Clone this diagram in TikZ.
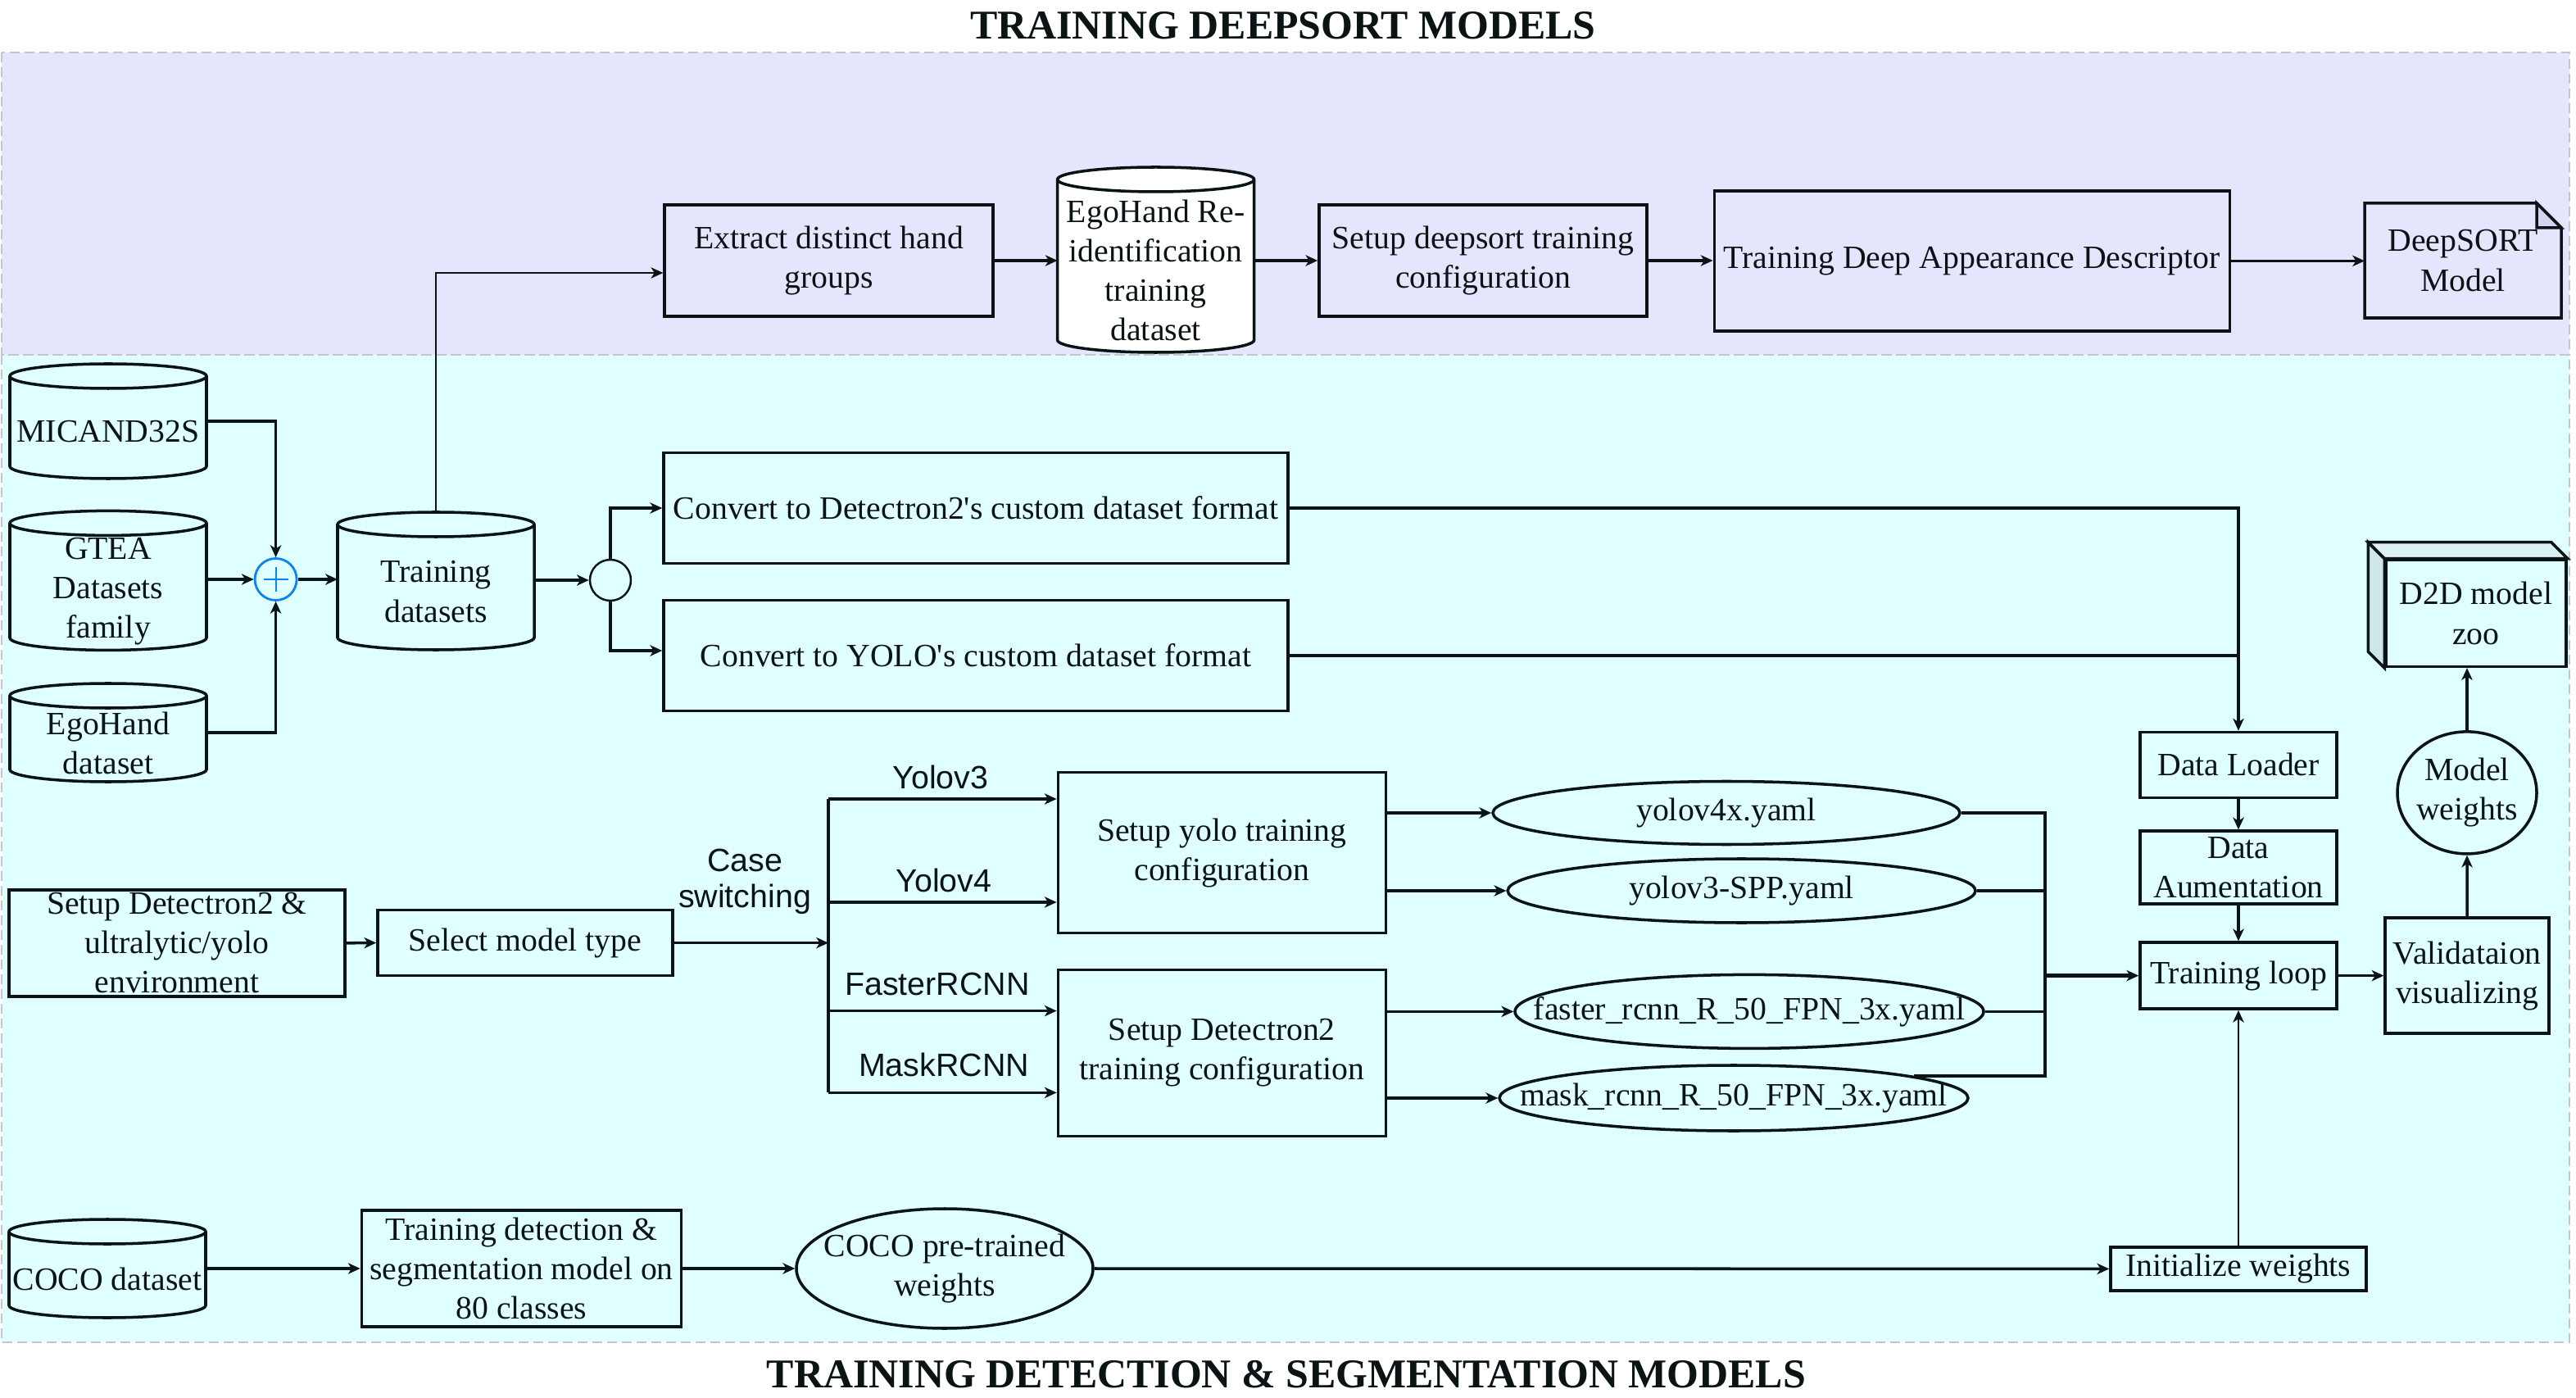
\documentclass[tikz,border=0pt]{standalone}
\usepackage{fontspec}
\setmainfont{Liberation Serif}
\setsansfont{Liberation Sans}
\usetikzlibrary{arrows.meta,shapes.geometric}

\definecolor{lavbg}{HTML}{E5E5FE}
\definecolor{cyanbg}{HTML}{E0FFFF}
\definecolor{foldc}{HTML}{D4D4F0}
\definecolor{cubeside}{HTML}{CFE6E6}
\definecolor{cubetop}{HTML}{DCF2F2}
\definecolor{plusblue}{HTML}{0A84F0}
\definecolor{lnc}{HTML}{0A1414}

\tikzset{
  arr/.style={-{Stealth[length=4.2pt,width=3.8pt,inset=1.2pt]}},
  box/.style={draw, rectangle, align=center, inner sep=0pt},
  oval/.style={draw, ellipse, inner sep=0pt},
  dbbox/.style={rectangle, inner sep=0pt, outer sep=0pt},
  region/.style={draw=gray!45, line width=0.6pt, dash pattern=on 1.2mm off 0.6mm},
  sflbl/.style={font=\sffamily\fontsize{11.2}{12.5}\selectfont, align=center, inner sep=0pt},
  ttl/.style={font=\bfseries\fontsize{14.2}{17}\selectfont, inner sep=0pt},
}

% database cylinder: [fill]{name}{position}{width}{height}{text}
\newcommand{\capr}{1.5mm}
\newcommand{\dbcyl}[6][cyanbg]{%
  \node[dbbox, minimum width=#4, minimum height=#5] (#2) at #3 {};
  \filldraw[fill=#1] ([yshift=-\capr]#2.north west) -- ([yshift=\capr]#2.south west)
    arc[start angle=180, end angle=360, x radius=#4/2, y radius=\capr]
    -- ([yshift=-\capr]#2.north east)
    arc[start angle=0, end angle=180, x radius=#4/2, y radius=\capr] -- cycle;
  \draw ([yshift=-\capr]#2.north west) arc[start angle=180, end angle=360, x radius=#4/2, y radius=\capr];
  \node[align=center, inner sep=0pt] (#2-t) at ([yshift=-1.3mm]#2.center) {#6};
}

\begin{document}
\begin{tikzpicture}[x=0.2mm, y=-0.2mm, line width=1pt, lnc, font=\fontsize{11.3}{13.7}\selectfont]
  \useasboundingbox (0,0) rectangle (1572,853);

  % background bands
  \fill[lavbg] (1,32) rectangle (1568,216.5);
  \fill[cyanbg] (1,216.5) rectangle (1568,819);
  \draw[region] (1,32) rectangle (1568,216.5);
  \draw[region] (1,216.5) rectangle (1568,819);

  \node[ttl] (ttop) at (783,15.5) {TRAINING DEEPSORT MODELS};
  \node[ttl] (tbot) at (785,838.5) {TRAINING DETECTION \& SEGMENTATION MODELS};

  % deepsort row
  \node[box, minimum width=40.1mm, minimum height=13.6mm] (extract) at (505.8,159) {Extract distinct hand\\groups};
  \dbcyl[white]{egoreid}{(705.3,158.5)}{24mm}{22.6mm}{EgoHand Re-\\identification\\training\\dataset}
  \node[box, minimum width=40mm, minimum height=13.6mm] (setupds) at (905,159) {Setup deepsort training\\configuration};
  \node[box, minimum width=62.9mm, minimum height=17.1mm] (tdad) at (1203.4,159.2) {Training Deep Appearance Descriptor};
  \node[dbbox, align=center, minimum width=24mm, minimum height=14mm] (dsm) at (1503,159) {DeepSORT\\Model};
  \draw (dsm.north west) -- ([xshift=-3mm]dsm.north east) -- ([yshift=-3mm]dsm.north east) -- (dsm.south east) -- (dsm.south west) -- cycle;
  \filldraw[fill=foldc] ([xshift=-3mm]dsm.north east) -- ([xshift=-3mm,yshift=-3mm]dsm.north east) -- ([yshift=-3mm]dsm.north east) -- cycle;

  \draw[arr] (extract.east) -- (extract.east -| egoreid.west);
  \draw[arr] (egoreid.east |- setupds.west) -- (setupds.west);
  \draw[arr] (setupds.east) -- (setupds.east -| tdad.west);
  \draw[arr] (tdad.east) -- (tdad.east -| dsm.west);

  % datasets
  \dbcyl{mic}{(66,257)}{24mm}{14mm}{MICAND32S}
  \dbcyl{gtea}{(66,354.2)}{24mm}{17mm}{GTEA\\Datasets\\family}
  \dbcyl{ego}{(66,447)}{24mm}{12mm}{EgoHand\\dataset}
  \dbcyl{trds}{(266,354.5)}{24mm}{16.8mm}{Training\\datasets}

  \node[circle, draw=plusblue, line width=0.8pt, minimum size=5.1mm, inner sep=0pt] (plus) at (168.3,353.5) {};
  \draw[plusblue, line width=0.6pt] ([xshift=-1.5mm]plus.center) -- ([xshift=1.5mm]plus.center)
    ([yshift=-1.5mm]plus.center) -- ([yshift=1.5mm]plus.center);
  \node[circle, draw, line width=0.7pt, minimum size=5mm, inner sep=0pt] (split) at (372.5,354) {};

  \draw[arr] (mic.east) -| (plus.north);
  \draw[arr] (gtea.east |- plus.west) -- (plus.west);
  \draw[arr] (ego.east) -| (plus.south);
  \draw[arr] (plus.east) -- (plus.east -| trds.west);
  \draw[arr] (trds.east |- split.west) -- (split.west);
  \draw[arr, line width=0.7pt] (trds.north) |- ([yshift=-1.5mm]extract.west);

  \node[box, minimum width=76.2mm, minimum height=13.5mm] (convD) at (595.5,310) {Convert to Detectron2\textquotesingle s custom dataset format};
  \node[box, minimum width=76.2mm, minimum height=13.5mm] (convY) at (595.5,400) {Convert to YOLO\textquotesingle s custom dataset format};
  \draw[arr] (split.north) |- (convD.west);
  \draw[arr] (split.south) |- ([yshift=0.6mm]convY.west);

  % training pipeline
  \node[box, minimum width=24mm, minimum height=8mm] (dload) at (1366,466.7) {Data Loader};
  \node[box, minimum width=24mm, minimum height=8.9mm] (daug) at (1366,529.3) {Data\\Aumentation};
  \node[box, minimum width=24mm, minimum height=8.1mm] (tloop) at (1366,595.3) {Training loop};
  \node[box, minimum width=20mm, minimum height=14.1mm] (valid) at (1505.6,595.3) {Validataion\\visualizing};
  \node[oval, minimum width=17mm, minimum height=14.9mm, label={[name=mweights-t, align=center, inner sep=0pt]center:Model\\weights}] (mweights) at (1505.5,483.7) {};
  \node[box, minimum width=22mm, minimum height=13mm] (zoo) at (1511,374.2) {D2D model\\zoo};
  \filldraw[fill=cubeside] (zoo.north west) -- ++(-2mm,2mm) -- ([shift={(-2mm,2mm)}]zoo.south west) -- (zoo.south west) -- cycle;
  \filldraw[fill=cubetop] (zoo.north west) -- ++(-2mm,2mm) -- ([shift={(-2mm,2mm)}]zoo.north east) -- (zoo.north east) -- cycle;

  \draw[arr] (convD.east) -| (dload.north);
  \draw (convY.east) -- (convY.east -| dload.north);
  \draw[arr] (dload.south) -- (daug.north);
  \draw[arr] (daug.south) -- (tloop.north);
  \draw[arr, line width=0.8pt] (tloop.east) -- (valid.west);
  \draw[arr] (valid.north) -- (mweights.south);
  \draw[arr] (mweights.north) -- (mweights.north |- zoo.south);

  % model selection
  \node[box, minimum width=41mm, minimum height=13mm] (setenv) at (108,575.4) {Setup Detectron2 \&\\ultralytic/yolo\\environment};
  \node[box, minimum width=36mm, minimum height=8mm] (selmt) at (320.5,575.3) {Select model type};
  \node[box, minimum width=40mm, minimum height=19.6mm] (yolocfg) at (745.7,520.3) {Setup yolo training\\configuration};
  \node[box, minimum width=40mm, minimum height=20.3mm] (d2cfg) at (745.7,642.5) {Setup Detectron2\\training configuration};

  \coordinate (sw) at (505.5,575.3);
  \coordinate (bv3) at (505.5,487.5);
  \coordinate (bv4) at (505.5,550.5);
  \coordinate (bfr) at (505.5,616.8);
  \coordinate (bmr) at (505.5,666.7);
  \draw[arr] (setenv.east) -- (selmt.west);
  \draw[arr] (selmt.east) -- (sw);
  \draw (bv3) -- (bmr);
  \draw[arr] (bv3) -- (bv3 -| yolocfg.west);
  \draw[arr] (bv4) -- (bv4 -| yolocfg.west);
  \draw[arr] (bfr) -- (bfr -| d2cfg.west);
  \draw[arr] (bmr) -- (bmr -| d2cfg.west);

  \node[sflbl] (cswitch) at (454.5,538) {Case\\switching};
  \node[sflbl] (lv3) at (574,474) {Yolov3};
  \node[sflbl] (lv4) at (576,537) {Yolov4};
  \node[sflbl] (lfr) at (572,600.6) {FasterRCNN};
  \node[sflbl] (lmr) at (576,649.6) {MaskRCNN};

  \node[oval, minimum width=57mm, minimum height=7.7mm, label={[name=yv4-t, inner sep=0pt]center:yolov4x.yaml}] (yv4) at (1053.5,496) {};
  \node[oval, minimum width=57.1mm, minimum height=7.8mm, label={[name=yv3-t, inner sep=0pt]center:yolov3-SPP.yaml}] (yv3) at (1062.8,543.5) {};
  \node[oval, minimum width=57.2mm, minimum height=9mm, label={[name=frcnn-t, inner sep=0pt]center:faster\_rcnn\_R\_50\_FPN\_3x.yaml}] (frcnn) at (1067.5,617.2) {};
  \node[oval, minimum width=57.2mm, minimum height=8mm, label={[name=mrcnn-t, inner sep=0pt]center:mask\_rcnn\_R\_50\_FPN\_3x.yaml}] (mrcnn) at (1058,670) {};

  \draw[arr] (yolocfg.east |- yv4.west) -- (yv4.west);
  \draw[arr] (yolocfg.east |- yv3.west) -- (yv3.west);
  \draw[arr] (d2cfg.east |- frcnn.west) -- (frcnn.west);
  \draw[arr] (d2cfg.east |- mrcnn.west) -- (mrcnn.west);

  \coordinate (ctop) at (1248,496);
  \draw (yv4.east) -- (ctop) -- (ctop |- mrcnn.7) -- (mrcnn.7);
  \draw (yv3.east) -- (yv3.east -| ctop);
  \draw (frcnn.east) -- (frcnn.east -| ctop);
  \draw[arr, line width=1.3pt] (ctop |- tloop.west) -- (tloop.west);

  % coco pre-training
  \dbcyl{coco}{(65.5,774)}{24mm}{12mm}{COCO dataset}
  \node[box, minimum width=39mm, minimum height=14.2mm] (tdet) at (318.2,774) {Training detection \&\\segmentation model on\\80 classes};
  \node[oval, minimum width=36.2mm, minimum height=14.6mm, label={[name=cocow-t, align=center, inner sep=0pt]center:COCO pre-trained\\weights}] (cocow) at (576.5,774) {};
  \node[box, minimum width=31.2mm, minimum height=5.3mm] (initw) at (1366,774.2) {Initialize weights};

  \draw[arr] (coco.east) -- (tdet.west);
  \draw[arr] (tdet.east) -- (cocow.west);
  \draw[arr] (cocow.east) -- (initw.west);
  \draw[arr, line width=0.7pt] (initw.north) -- (tloop.south);
\end{tikzpicture}
\end{document}
